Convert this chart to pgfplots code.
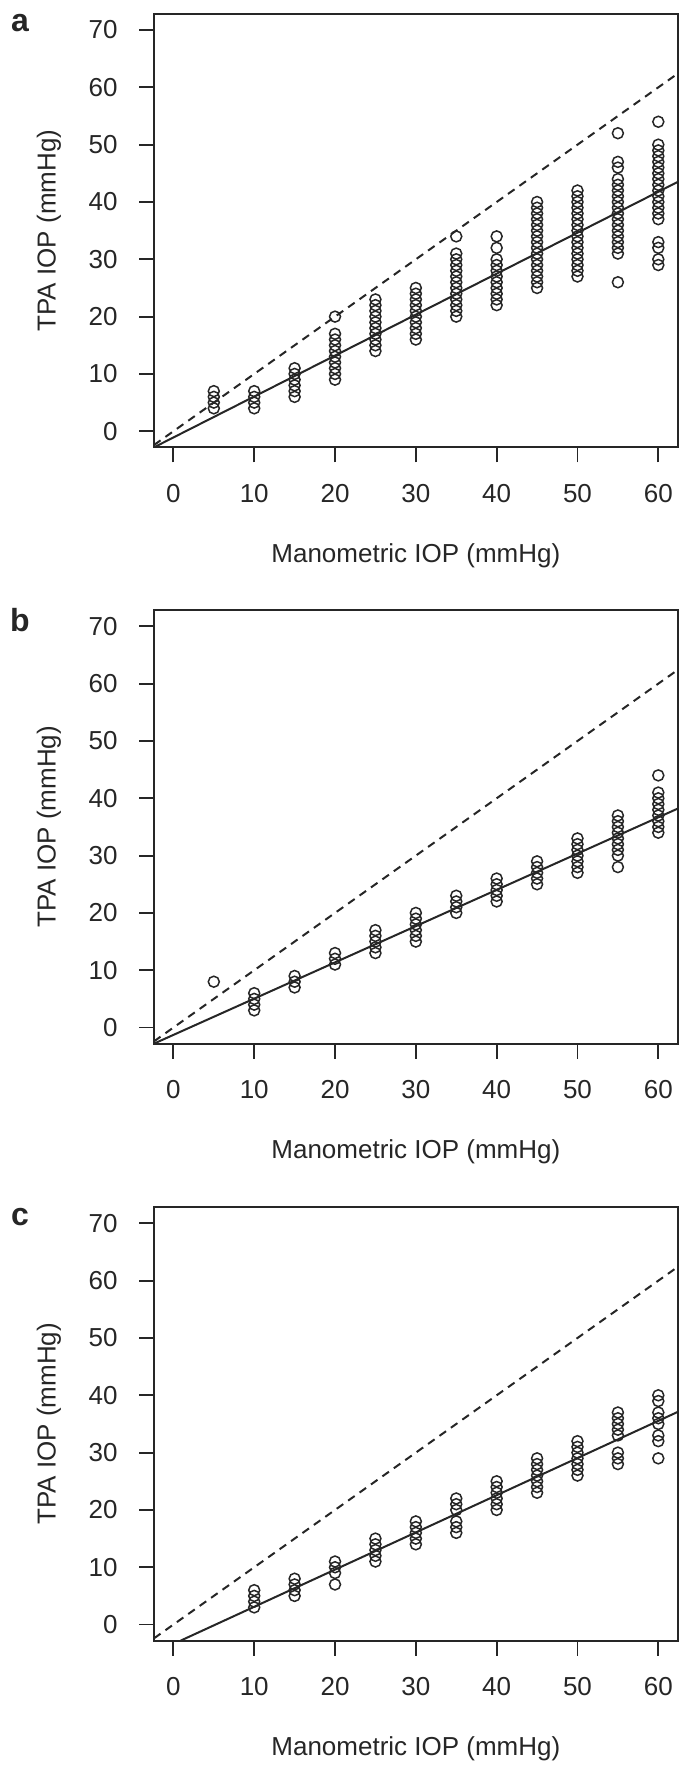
\documentclass[border=0pt]{standalone}
\usepackage{fontspec}
\setmainfont{Liberation Sans}
\usepackage{pgfplots}
\pgfplotsset{compat=1.18}
\definecolor{ink}{HTML}{262626}
\pgfplotsset{
  iop/.style={
    scale only axis, width=261.85pt, height=216.65pt,
    anchor=north west,
    xmin=-2.4, xmax=62.4, ymin=-2.8, ymax=72.8,
    xtick={0,10,...,60}, ytick={0,10,...,70},
    tick pos=left, tick align=outside,
    major tick length=7.5pt,
    every tick/.style={ink, line width=0.9pt},
    axis line style={ink, line width=1pt},
    /pgf/number format/assume math mode=true,
    tick label style={font=\fontsize{13}{15}\selectfont, text=ink},
    xticklabel style={anchor=base, inner sep=0pt, yshift=-20pt},
    yticklabel style={anchor=east, inner sep=0pt, xshift=-10.5pt},
    every axis x label/.style={at={(axis description cs:0.5,-0.2654)}, anchor=base, font=\fontsize{13}{15}\selectfont, text=ink},
    every axis y label/.style={at={(axis description cs:-0.2005,0.5)}, rotate=90, anchor=center, font=\fontsize{13}{15}\selectfont, text=ink},
    xlabel={Manometric IOP (mmHg)},
    ylabel={TPA IOP (mmHg)},
  },
  pts/.style={only marks, mark=o, mark size=2.75pt, mark options={ink, line width=0.75pt}},
  fit/.style={ink, line width=1pt, no marks},
  ident/.style={ink, line width=1pt, no marks, dash pattern=on 4pt off 3pt},
}
\begin{document}
\begin{tikzpicture}
\useasboundingbox (0pt,0pt) rectangle (346pt,-886pt);
% ---------------- a ----------------
\begin{axis}[iop, at={(77pt,-7pt)}]
\addplot[pts] coordinates {
(5,4)(5,5)(5,6)(5,7)
(10,4)(10,5)(10,6)(10,7)
(15,6)(15,7)(15,8)(15,9)(15,10)(15,11)
(20,9)(20,10)(20,11)(20,12)(20,13)(20,14)(20,15)(20,16)(20,17)(20,20)
(25,14)(25,15)(25,16)(25,17)(25,18)(25,19)(25,20)(25,21)(25,22)(25,23)
(30,16)(30,17)(30,18)(30,19)(30,20)(30,21)(30,22)(30,23)(30,24)(30,25)
(35,20)(35,21)(35,22)(35,23)(35,24)(35,25)(35,26)(35,27)(35,28)(35,29)(35,30)(35,31)(35,34)
(40,22)(40,23)(40,24)(40,25)(40,26)(40,27)(40,28)(40,29)(40,30)(40,32)(40,34)
(45,25)(45,26)(45,27)(45,28)(45,29)(45,30)(45,31)(45,32)(45,33)(45,34)(45,35)(45,36)(45,37)(45,38)(45,39)(45,40)
(50,27)(50,28)(50,29)(50,30)(50,31)(50,32)(50,33)(50,34)(50,35)(50,36)(50,37)(50,38)(50,39)(50,40)(50,41)(50,42)
(55,26)(55,31)(55,32)(55,33)(55,34)(55,35)(55,36)(55,37)(55,38)(55,39)(55,40)(55,41)(55,42)(55,43)(55,44)(55,46)(55,47)(55,52)
(60,29)(60,30)(60,32)(60,33)(60,37)(60,38)(60,39)(60,40)(60,41)(60,42)(60,43)(60,44)(60,45)(60,46)(60,47)(60,48)(60,49)(60,50)(60,54)
};
\addplot[ident] coordinates {(-2.4,-2.4)(62.4,62.4)};
\addplot[fit] coordinates {(-2.4,-2.8)(62.4,43.5)};
\end{axis}
% ---------------- b ----------------
\begin{axis}[iop, at={(77pt,-305.15pt)}]
\addplot[pts] coordinates {
(5,8)
(10,3)(10,4)(10,5)(10,6)
(15,7)(15,8)(15,9)
(20,11)(20,12)(20,13)
(25,13)(25,14)(25,15)(25,16)(25,17)
(30,15)(30,16)(30,17)(30,18)(30,19)(30,20)
(35,20)(35,21)(35,22)(35,23)
(40,22)(40,23)(40,24)(40,25)(40,26)
(45,25)(45,26)(45,27)(45,28)(45,29)
(50,27)(50,28)(50,29)(50,30)(50,31)(50,32)(50,33)
(55,28)(55,30)(55,31)(55,32)(55,33)(55,34)(55,35)(55,36)(55,37)
(60,34)(60,35)(60,36)(60,37)(60,38)(60,39)(60,40)(60,41)(60,44)
};
\addplot[ident] coordinates {(-2.4,-2.4)(62.4,62.4)};
\addplot[fit] coordinates {(-2.4,-2.8)(62.4,38.2)};
\end{axis}
% ---------------- c ----------------
\begin{axis}[iop, at={(77pt,-603.65pt)}]
\addplot[pts] coordinates {
(10,3)(10,4)(10,5)(10,6)
(15,5)(15,6)(15,7)(15,8)
(20,7)(20,9)(20,10)(20,11)
(25,11)(25,12)(25,13)(25,14)(25,15)
(30,14)(30,15)(30,16)(30,17)(30,18)
(35,16)(35,17)(35,18)(35,20)(35,21)(35,22)
(40,20)(40,21)(40,22)(40,23)(40,24)(40,25)
(45,23)(45,24)(45,25)(45,26)(45,27)(45,28)(45,29)
(50,26)(50,27)(50,28)(50,29)(50,30)(50,31)(50,32)
(55,28)(55,29)(55,30)(55,33)(55,34)(55,35)(55,36)(55,37)
(60,29)(60,32)(60,33)(60,35)(60,36)(60,37)(60,39)(60,40)
};
\addplot[ident] coordinates {(-2.4,-2.4)(62.4,62.4)};
\addplot[fit] coordinates {(0.9,-2.8)(62.4,37.1)};
\end{axis}
% panel letters
\node[font=\bfseries\fontsize{16}{18}\selectfont, text=ink] at (10pt,-11.5pt) {a};
\node[font=\bfseries\fontsize{16}{18}\selectfont, text=ink] at (10pt,-309.8pt) {b};
\node[font=\bfseries\fontsize{16}{18}\selectfont, text=ink] at (10pt,-608.5pt) {c};
\end{tikzpicture}
\end{document}
